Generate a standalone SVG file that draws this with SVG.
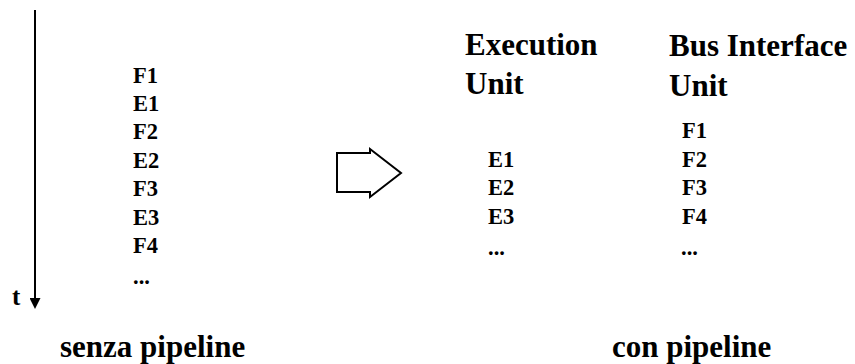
<svg xmlns="http://www.w3.org/2000/svg" width="855" height="364" viewBox="0 0 855 364">
  <style>
    text { font-family: "Liberation Serif", "Times New Roman", serif; font-weight: bold; fill: #000; }
    .big { font-size: 31px; }
    .sm { font-size: 22.5px; }
    .t { font-size: 25px; }
  </style>
  <defs>
    <marker id="ah" markerWidth="12" markerHeight="11" refX="0" refY="5.5" orient="auto" markerUnits="userSpaceOnUse">
      <path d="M0,0 L11,5.5 L0,11 Z" fill="#000"/>
    </marker>
  </defs>
  <rect width="855" height="364" fill="#fff"/>

  <g id="connectors">
    <line x1="35" y1="10" x2="35" y2="298" stroke="#000" stroke-width="2" marker-end="url(#ah)"/>
    <path d="M337,153 L370,153 L370,149 L401,173 L370,197 L370,192 L337,192 Z" fill="#fff" stroke="#000" stroke-width="2"/>
  </g>

  <g id="time-axis-label">
    <text class="t" x="12" y="305">t</text>
  </g>

  <g id="senza-pipeline">
    <text class="sm" x="133" y="83">F1</text>
    <text class="sm" x="133" y="111">E1</text>
    <text class="sm" x="133" y="139">F2</text>
    <text class="sm" x="133" y="168">E2</text>
    <text class="sm" x="133" y="196">F3</text>
    <text class="sm" x="133" y="225">E3</text>
    <text class="sm" x="133" y="253">F4</text>
    <text class="sm" x="133" y="284">...</text>
    <text class="big" x="60" y="357">senza pipeline</text>
  </g>

  <g id="execution-unit">
    <text class="big" x="465" y="55">Execution</text>
    <text class="big" x="465" y="94">Unit</text>
    <text class="sm" x="488" y="167">E1</text>
    <text class="sm" x="488" y="195">E2</text>
    <text class="sm" x="488" y="224">E3</text>
    <text class="sm" x="488" y="255">...</text>
  </g>

  <g id="bus-interface-unit">
    <text class="big" x="669" y="56">Bus Interface</text>
    <text class="big" x="669" y="96">Unit</text>
    <text class="sm" x="682" y="138">F1</text>
    <text class="sm" x="682" y="167">F2</text>
    <text class="sm" x="682" y="195">F3</text>
    <text class="sm" x="682" y="224">F4</text>
    <text class="sm" x="681" y="255">...</text>
  </g>

  <g id="con-pipeline">
    <text class="big" x="612" y="357">con pipeline</text>
  </g>
</svg>
